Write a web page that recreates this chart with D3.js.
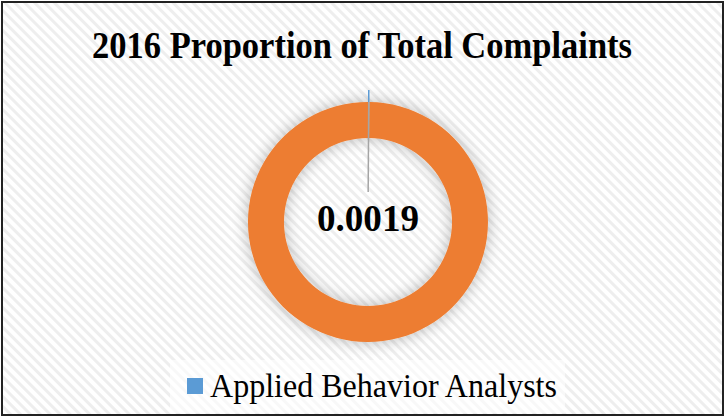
<!DOCTYPE html>
<html>
<head>
<meta charset="utf-8">
<script src="https://cdn.jsdelivr.net/npm/d3@7.9.0/dist/d3.min.js"></script>
<style>
  html, body { margin: 0; padding: 0; background: #fff; }
  svg { display: block; }
</style>
</head>
<body>
<div id="chart"></div>
<script>
// data
const categories = ["Applied Behavior Analysts", "Other"];
const values = [0.0019, 0.9981];
const seriesColors = ["#5B9BD5", "#ED7D31"];
const legendLabels = ["Applied Behavior Analysts"];
const centerLabel = "0.0019";
const title = "2016 Proportion of Total Complaints";

const width = 726, height = 418;
const cx = 368, cy = 222;
const outerR = 120, innerR = 84;

const svg = d3.select("#chart").append("svg")
    .attr("width", width)
    .attr("height", height);

const defs = svg.append("defs");

// diagonal stripe background
const pat = defs.append("pattern")
    .attr("id", "stripes")
    .attr("patternUnits", "userSpaceOnUse")
    .attr("width", 7)
    .attr("height", 7)
    .attr("patternTransform", "rotate(-45)");
pat.append("rect").attr("width", 7).attr("height", 7).attr("fill", "#fff");
pat.append("rect").attr("width", 3).attr("height", 7).attr("fill", "#eeeeee");

// soft glow around ring
const glow = defs.append("filter")
    .attr("id", "glow")
    .attr("x", "-30%").attr("y", "-30%")
    .attr("width", "160%").attr("height", "160%");
glow.append("feGaussianBlur").attr("in", "SourceAlpha").attr("stdDeviation", 8).attr("result", "blur");
glow.append("feComponentTransfer").attr("in", "blur").attr("result", "shadow")
    .append("feFuncA").attr("type", "linear").attr("slope", 0.28);
const merge = glow.append("feMerge");
merge.append("feMergeNode").attr("in", "shadow");
merge.append("feMergeNode").attr("in", "SourceGraphic");

svg.append("rect")
    .attr("x", 2).attr("y", 2)
    .attr("width", width - 5).attr("height", height - 5)
    .attr("fill", "url(#stripes)")
    .attr("stroke", "#222")
    .attr("stroke-width", 2);

// title
svg.append("text")
    .attr("x", 362)
    .attr("y", 58)
    .attr("text-anchor", "middle")
    .attr("textLength", 540)
    .attr("lengthAdjust", "spacingAndGlyphs")
    .style("font-family", "'Liberation Serif', 'Times New Roman', serif")
    .style("font-weight", "bold")
    .style("font-size", "37px")
    .attr("fill", "#000")
    .text(title);

// donut
const pie = d3.pie().sort(null).value(d => d);
const arcs = pie(values);
const arc = d3.arc().innerRadius(innerR).outerRadius(outerR);

const g = svg.append("g").attr("transform", `translate(${cx},${cy})`);

g.append("g")
    .attr("filter", "url(#glow)")
    .selectAll("path")
    .data(arcs)
    .join("path")
    .attr("d", arc)
    .attr("fill", (d, i) => seriesColors[i]);

// tiny slice marker and leader line
const a0 = arcs[0];
const mid = (a0.startAngle + a0.endAngle) / 2;
const pt = r => [Math.sin(mid) * r, -Math.cos(mid) * r];
const [bx1, by1] = pt(outerR + 12);
const [bx2, by2] = pt(outerR);
g.append("line")
    .attr("x1", bx1).attr("y1", by1)
    .attr("x2", bx2).attr("y2", by2)
    .attr("stroke", seriesColors[0])
    .attr("stroke-width", 1.5);
const [lx2, ly2] = pt(30);
g.append("line")
    .attr("x1", bx2).attr("y1", by2)
    .attr("x2", lx2).attr("y2", ly2)
    .attr("stroke", "#a5a5a5")
    .attr("stroke-width", 1.5);

g.append("text")
    .attr("x", 0)
    .attr("y", 9)
    .attr("text-anchor", "middle")
    .attr("textLength", 102)
    .attr("lengthAdjust", "spacingAndGlyphs")
    .style("font-family", "'Liberation Serif', 'Times New Roman', serif")
    .style("font-weight", "bold")
    .style("font-size", "37px")
    .attr("fill", "#000")
    .text(centerLabel);

// legend
svg.append("rect")
    .attr("x", 170).attr("y", 360)
    .attr("width", 395).attr("height", 53)
    .attr("fill", "#fff")
    .attr("opacity", 0.6);

const legend = svg.append("g").attr("transform", "translate(187,378)");
legend.selectAll("rect")
    .data(legendLabels)
    .join("rect")
    .attr("width", 16).attr("height", 16)
    .attr("fill", (d, i) => seriesColors[i]);
legend.selectAll("text")
    .data(legendLabels)
    .join("text")
    .attr("x", 23)
    .attr("y", 19)
    .attr("textLength", 347)
    .attr("lengthAdjust", "spacingAndGlyphs")
    .style("font-family", "'Liberation Serif', 'Times New Roman', serif")
    .style("font-size", "33px")
    .attr("fill", "#000")
    .text(d => d);
</script>
</body>
</html>
